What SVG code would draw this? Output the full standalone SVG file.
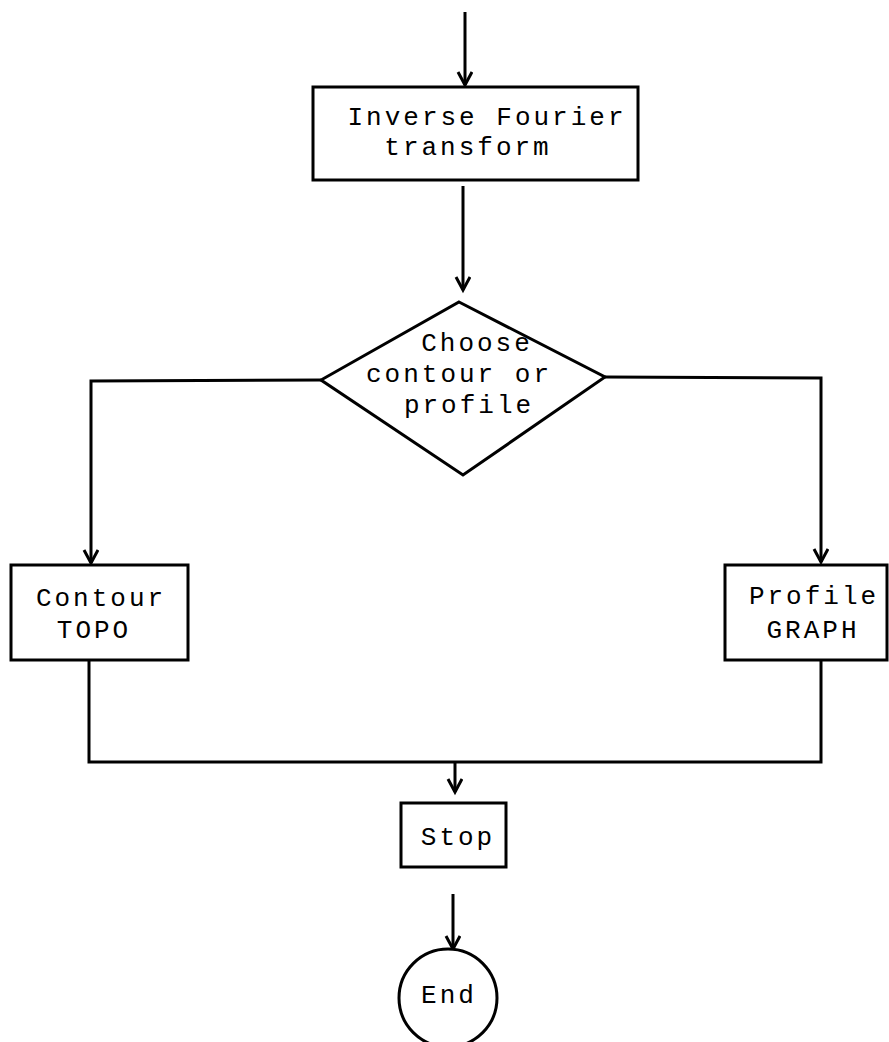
<svg xmlns="http://www.w3.org/2000/svg" width="889" height="1042" viewBox="0 0 889 1042">
<style>
.s{fill:none;stroke:#000;stroke-width:3;stroke-linejoin:miter}
.n{fill:#fff;stroke:#000;stroke-width:3}
.t{font-family:"Liberation Mono",monospace;font-size:26px;letter-spacing:3px;fill:#000;text-anchor:middle}
</style>
<defs>
<marker id="arr" markerWidth="20" markerHeight="20" refX="14" refY="8" orient="auto" markerUnits="userSpaceOnUse" viewBox="0 0 20 20">
<path d="M1,1 L14,8 L1,15" fill="none" stroke="#000" stroke-width="3"/>
</marker>
</defs>
<rect width="889" height="1042" fill="#fff"/>
<g id="connectors" class="s">
<line x1="465" y1="12" x2="465" y2="85" marker-end="url(#arr)"/>
<line x1="463" y1="186" x2="463" y2="290" marker-end="url(#arr)"/>
<polyline points="321,380 91,381 91,563" marker-end="url(#arr)"/>
<polyline points="605,377 821,378 821,562" marker-end="url(#arr)"/>
<polyline points="89,660 89,762 821,762 821,660"/>
<line x1="455" y1="762" x2="455" y2="792" marker-end="url(#arr)"/>
<line x1="453" y1="894" x2="453" y2="949" marker-end="url(#arr)"/>
</g>
<g id="inverse">
<rect class="n" x="313" y="87" width="325" height="93"/>
<text class="t" x="487" y="125">Inverse Fourier</text>
<text class="t" x="468" y="155">transform</text>
</g>
<g id="choose">
<polygon class="n" points="459,302 605,377 463,475 321,380"/>
<text class="t" x="477" y="351">Choose</text>
<text class="t" x="459" y="382">contour or</text>
<text class="t" x="469" y="413">profile</text>
</g>
<g id="contour">
<rect class="n" x="11" y="565" width="177" height="95"/>
<text class="t" x="101" y="606">Contour</text>
<text class="t" x="94" y="638">TOPO</text>
</g>
<g id="profile">
<rect class="n" x="725" y="565" width="162" height="95"/>
<text class="t" x="814" y="604">Profile</text>
<text class="t" x="813" y="638">GRAPH</text>
</g>
<g id="stop">
<rect class="n" x="401" y="803" width="105" height="64"/>
<text class="t" x="458" y="845">Stop</text>
</g>
<g id="end">
<circle class="n" cx="448" cy="998" r="49"/>
<text class="t" x="449" y="1003">End</text>
</g>
</svg>
